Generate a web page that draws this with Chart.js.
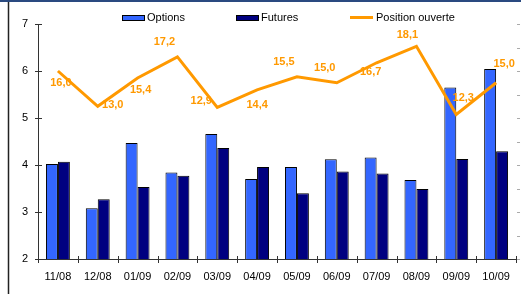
<!DOCTYPE html>
<html>
<head>
<meta charset="utf-8">
<script src="https://cdn.jsdelivr.net/npm/chart.js@4"></script>
<style>
  body { margin: 0; background: #fff; }
  #wrap { width: 521px; height: 294px; }
</style>
</head>
<body>
<div id="wrap"><canvas id="chart" width="521" height="294"></canvas></div>
<script>
// Données
const mois = ["11/08", "12/08", "01/09", "02/09", "03/09", "04/09", "05/09", "06/09", "07/09", "08/09", "09/09", "10/09"];
const options = [4.02, 3.08, 4.47, 3.84, 4.66, 3.70, 3.96, 4.12, 4.16, 3.68, 5.65, 6.04];
const futures = [4.07, 3.27, 3.53, 3.77, 4.36, 3.96, 3.40, 3.86, 3.82, 3.49, 4.13, 4.29];
const positionOuverte = [16.0, 13.0, 15.4, 17.2, 12.9, 14.4, 15.5, 15.0, 16.7, 18.1, 12.3, 15.0];
const ticksGauche = [2, 3, 4, 5, 6, 7];

// décalage des étiquettes (style, pas des données)
const decalages = [[3, 12], [15, -1], [3, 12], [-13, -15], [-16, -6], [0, 15], [-13, -15], [-12, -15], [-6, 9], [-9, -11], [7, -17], [8, -19]];

const police = "'Liberation Sans', Arial, sans-serif";

// Cadre
const cadre = {
  id: "cadre",
  beforeDraw(chart) {
    const ctx = chart.ctx;
    ctx.save();
    ctx.fillStyle = "#fff";
    ctx.fillRect(0, 0, chart.width, chart.height);
    ctx.strokeStyle = "#2a4a80";
    ctx.lineWidth = 2;
    ctx.beginPath();
    ctx.moveTo(0, 1);
    ctx.lineTo(chart.width, 1);
    ctx.stroke();
    ctx.strokeStyle = "#222";
    ctx.lineWidth = 1.5;
    ctx.beginPath();
    ctx.moveTo(8.5, 2);
    ctx.lineTo(8.5, chart.height);
    ctx.stroke();
    ctx.restore();
  },
};

// Graduations croisées
const graduations = {
  id: "graduations",
  afterDraw(chart) {
    const ctx = chart.ctx;
    const a = chart.chartArea;
    const y = chart.scales.y;
    const y1 = chart.scales.y1;
    ctx.save();
    ctx.strokeStyle = "#333";
    ctx.lineWidth = 1;
    ctx.beginPath();
    ctx.moveTo(a.left + 0.5, a.top);
    ctx.lineTo(a.left + 0.5, a.bottom);
    ctx.moveTo(a.left, a.bottom + 0.5);
    ctx.lineTo(a.right, a.bottom + 0.5);
    ticksGauche.forEach((v) => {
      const py = Math.round(y.getPixelForValue(v)) + 0.5;
      ctx.moveTo(a.left - 3, py);
      ctx.lineTo(a.left + 4, py);
    });
    const n = mois.length;
    const pas = (a.right - a.left) / n;
    for (let i = 0; i <= n; i++) {
      const px = Math.round(a.left + i * pas) + 0.5;
      ctx.moveTo(px, a.bottom - 3);
      ctx.lineTo(px, a.bottom + 4);
    }
    ctx.stroke();
    ctx.strokeStyle = "#aaa";
    ctx.beginPath();
    for (let v = 0; v <= 20; v += 2) {
      const py = Math.round(y1.getPixelForValue(v)) + 0.5;
      ctx.moveTo(a.right + 1, py);
      ctx.lineTo(a.right + 4, py);
    }
    ctx.stroke();
    ctx.restore();
  },
};

// Étiquettes de la ligne
const etiquettes = {
  id: "etiquettes",
  afterDatasetsDraw(chart) {
    const ctx = chart.ctx;
    const meta = chart.getDatasetMeta(2);
    ctx.save();
    ctx.font = "bold 11px " + police;
    ctx.fillStyle = "#FF9900";
    ctx.textAlign = "center";
    ctx.textBaseline = "middle";
    meta.data.forEach((pt, i) => {
      const txt = positionOuverte[i].toFixed(1).replace(".", ",");
      ctx.fillText(txt, pt.x + decalages[i][0], pt.y + decalages[i][1]);
    });
    ctx.restore();
  },
};

// Légende
const legende = {
  id: "legende",
  afterDraw(chart) {
    const ctx = chart.ctx;
    ctx.save();
    ctx.font = "11px " + police;
    ctx.textBaseline = "middle";
    ctx.fillStyle = "#3366FF";
    ctx.fillRect(122, 15, 22, 5);
    ctx.strokeStyle = "#000";
    ctx.lineWidth = 1;
    ctx.strokeRect(122.5, 15.5, 22, 5);
    ctx.fillStyle = "#000080";
    ctx.fillRect(236, 15, 22, 5);
    ctx.strokeRect(236.5, 15.5, 22, 5);
    ctx.strokeStyle = "#FF9900";
    ctx.lineWidth = 3;
    ctx.beginPath();
    ctx.moveTo(350, 17.5);
    ctx.lineTo(373, 17.5);
    ctx.stroke();
    ctx.fillStyle = "#000";
    ctx.fillText("Options", 147, 18);
    ctx.fillText("Futures", 261, 18);
    ctx.fillText("Position ouverte", 376, 18);
    ctx.restore();
  },
};

const ctx = document.getElementById("chart").getContext("2d");
new Chart(ctx, {
  data: {
    labels: mois,
    datasets: [
      {
        type: "bar",
        label: "Options",
        data: options,
        backgroundColor: "#3366FF",
        borderColor: "#000",
        borderWidth: 1,
        yAxisID: "y",
        order: 2,
      },
      {
        type: "bar",
        label: "Futures",
        data: futures,
        backgroundColor: "#000080",
        borderColor: "#000",
        borderWidth: 1,
        yAxisID: "y",
        order: 2,
      },
      {
        type: "line",
        label: "Position ouverte",
        data: positionOuverte,
        borderColor: "#FF9900",
        borderWidth: 3,
        pointRadius: 0,
        tension: 0,
        yAxisID: "y1",
        order: 1,
      },
    ],
  },
  options: {
    responsive: false,
    animation: false,
    layout: { padding: { top: 24, left: 0, right: 0, bottom: 0 } },
    datasets: { bar: { categoryPercentage: 0.6, barPercentage: 1 } },
    plugins: { legend: { display: false }, tooltip: { enabled: false } },
    scales: {
      x: {
        grid: { display: false, drawTicks: false },
        border: { display: false },
        ticks: { color: "#000", font: { family: police, size: 11 }, padding: 11, maxRotation: 0 },
        afterFit: (s) => { s.height = 35; },
      },
      y: {
        position: "left",
        min: 2,
        max: 7,
        grid: { display: false, drawTicks: false },
        border: { display: false },
        ticks: { stepSize: 1, color: "#000", font: { family: police, size: 11 }, padding: 10 },
        afterFit: (s) => { s.width = 38; },
      },
      y1: {
        position: "right",
        min: 0,
        max: 20,
        grid: { display: false, drawTicks: false },
        border: { display: false },
        ticks: { stepSize: 2, display: false },
        afterFit: (s) => { s.width = 3; },
      },
    },
  },
  plugins: [cadre, graduations, etiquettes, legende],
});
</script>
</body>
</html>
